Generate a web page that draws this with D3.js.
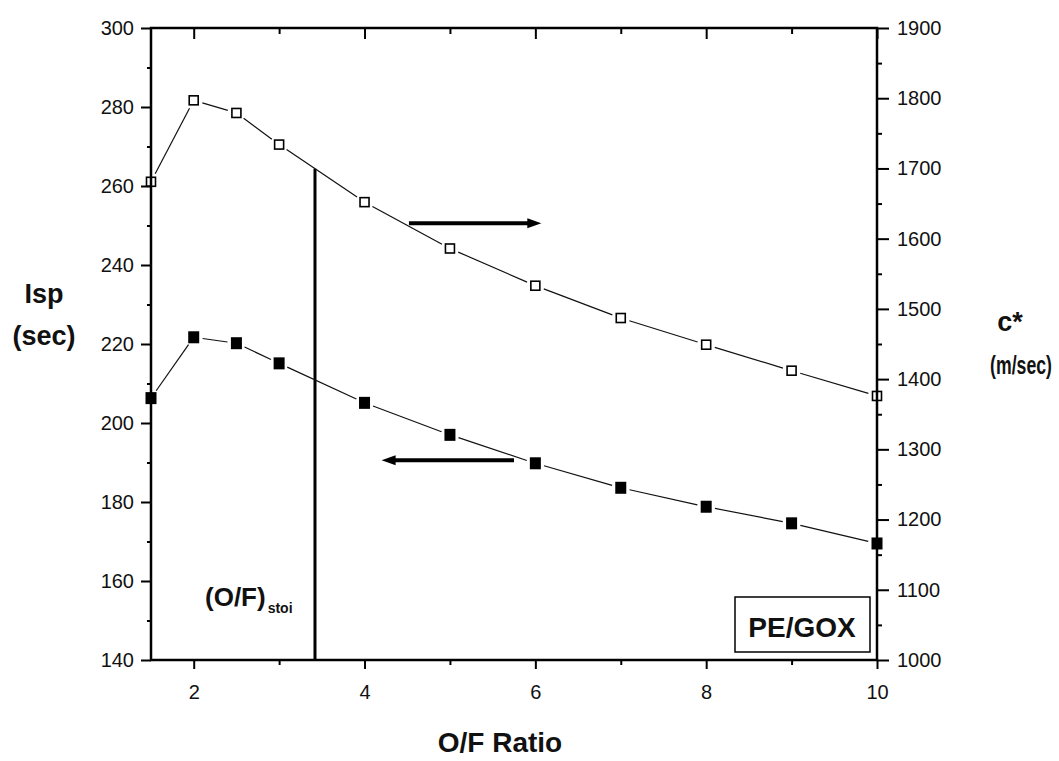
<!DOCTYPE html>
<html lang="en">
<head>
<meta charset="UTF-8">
<title>PE/GOX Isp and c*</title>
<style>
  body { margin: 0; background: #fff; }
  text { font-family: "Liberation Sans", Arial, sans-serif; fill: #111; }
  .lbl { font-weight: bold; }
</style>
</head>
<body>
<div id="chart"></div>
<script src="https://cdn.jsdelivr.net/npm/d3@7"></script>
<script>
// O/F ratio on the x axis
var ofRatio = [1.5, 2, 2.5, 3, 4, 5, 6, 7, 8, 9, 10];
// c* (m/sec), right axis, open squares
var cStar = [1681, 1797, 1779, 1734, 1652, 1586, 1533, 1487, 1449, 1412, 1376];
// Isp (sec), left axis, filled squares
var isp = [206.3, 221.7, 220.2, 215.1, 205.1, 197, 189.8, 183.6, 178.8, 174.6, 169.5];

var xTicks = [2, 4, 6, 8, 10];
var xMinor = [3, 5, 7, 9];
var ispTicks = [140, 160, 180, 200, 220, 240, 260, 280, 300];
var cTicks = [1000, 1100, 1200, 1300, 1400, 1500, 1600, 1700, 1800, 1900];
var ofStoich = 3.42;

var W = 1059, H = 761;
var pLeft = 151, pRight = 877, pTop = 28, pBottom = 660;

var svg = d3.select("#chart").append("svg")
    .attr("width", W)
    .attr("height", H);

var x = d3.scaleLinear().domain([1.5, 10]).range([pLeft, pRight]);
var yL = d3.scaleLinear().domain([140, 300]).range([pBottom, pTop]);
var yR = d3.scaleLinear().domain([1000, 1900]).range([pBottom, pTop]);

// vertical stoichiometric line, from the c* curve down to the axis
var cAtStoich = d3.scaleLinear().domain(ofRatio).range(cStar)(ofStoich);
svg.append("line")
    .attr("x1", x(ofStoich)).attr("x2", x(ofStoich))
    .attr("y1", yR(cAtStoich)).attr("y2", pBottom)
    .attr("stroke", "#000").attr("stroke-width", 3);

// series lines with small gaps near markers
function drawSeries(vals, y, gap) {
  var g = svg.append("g");
  for (var i = 0; i < vals.length - 1; i++) {
    var x1 = x(ofRatio[i]), y1 = y(vals[i]);
    var x2 = x(ofRatio[i + 1]), y2 = y(vals[i + 1]);
    var dx = x2 - x1, dy = y2 - y1, len = Math.sqrt(dx * dx + dy * dy);
    var ux = dx / len, uy = dy / len;
    g.append("line")
        .attr("x1", x1 + ux * gap).attr("y1", y1 + uy * gap)
        .attr("x2", x2 - ux * gap).attr("y2", y2 - uy * gap)
        .attr("stroke", "#111").attr("stroke-width", 1.2);
  }
}
drawSeries(cStar, yR, 9);
drawSeries(isp, yL, 9);

svg.append("g").selectAll("rect")
    .data(ofRatio)
    .enter().append("rect")
    .attr("x", function(d) { return x(d) - 4.5; })
    .attr("y", function(d, i) { return yR(cStar[i]) - 4.5; })
    .attr("width", 9).attr("height", 9)
    .attr("fill", "#fff").attr("stroke", "#000").attr("stroke-width", 1.6);

svg.append("g").selectAll("rect")
    .data(ofRatio)
    .enter().append("rect")
    .attr("x", function(d) { return x(d) - 5.5; })
    .attr("y", function(d, i) { return yL(isp[i]) - 6; })
    .attr("width", 11).attr("height", 12)
    .attr("fill", "#000");

// axes
var axW = 2.5;
svg.append("g").attr("transform", "translate(0," + pBottom + ")")
    .call(d3.axisBottom(x).tickValues(xTicks).tickSize(9).tickPadding(16).tickFormat(d3.format("d")));
svg.append("g").attr("transform", "translate(0," + pBottom + ")")
    .call(d3.axisBottom(x).tickValues(xMinor).tickSize(5).tickFormat(""));
svg.append("g").attr("transform", "translate(0," + pTop + ")")
    .call(d3.axisBottom(x).tickValues(xTicks).tickSize(11).tickFormat(""));
svg.append("g").attr("transform", "translate(0," + pTop + ")")
    .call(d3.axisBottom(x).tickValues(xMinor).tickSize(6).tickFormat(""));

svg.append("g").attr("transform", "translate(" + pLeft + ",0)")
    .call(d3.axisLeft(yL).tickValues(ispTicks).tickSize(10).tickPadding(7).tickFormat(d3.format("d")));
svg.append("g").attr("transform", "translate(" + pLeft + ",0)")
    .call(d3.axisLeft(yL).tickValues(d3.range(150, 300, 20)).tickSize(4).tickFormat(""));

svg.append("g").attr("transform", "translate(" + pRight + ",0)")
    .call(d3.axisRight(yR).tickValues(cTicks).tickSize(12).tickPadding(8).tickFormat(d3.format("d")));
svg.append("g").attr("transform", "translate(" + pRight + ",0)")
    .call(d3.axisRight(yR).tickValues(d3.range(1050, 1900, 100)).tickSize(5).tickFormat(""));

svg.selectAll(".domain").attr("stroke", "none");
svg.selectAll(".tick line").attr("stroke", "#000").attr("stroke-width", 2);
svg.selectAll(".tick text").style("font-size", "20px").attr("fill", "#111");

// frame
svg.append("rect")
    .attr("x", pLeft).attr("y", pTop)
    .attr("width", pRight - pLeft).attr("height", pBottom - pTop)
    .attr("fill", "none").attr("stroke", "#000").attr("stroke-width", axW);

// arrows
function arrow(x1, x2, yv) {
  var py = yL(yv);
  var dir = x2 > x1 ? 1 : -1;
  svg.append("line")
      .attr("x1", x(x1)).attr("x2", x(x2) - dir * 10)
      .attr("y1", py).attr("y2", py)
      .attr("stroke", "#000").attr("stroke-width", 4);
  var tip = x(x2);
  svg.append("path")
      .attr("d", "M" + tip + "," + py + " L" + (tip - dir * 14) + "," + (py - 5) +
                 " L" + (tip - dir * 14) + "," + (py + 5) + " Z")
      .attr("fill", "#000");
}
arrow(4.52, 6.07, 250.6);
arrow(5.75, 4.2, 190.6);

// PE/GOX box
svg.append("rect")
    .attr("x", 735).attr("y", 597).attr("width", 135).attr("height", 55)
    .attr("fill", "#fff").attr("stroke", "#000").attr("stroke-width", 1.5);
svg.append("text").attr("class", "lbl")
    .attr("x", 802).attr("y", 637).attr("text-anchor", "middle")
    .style("font-size", "28px").text("PE/GOX");

// (O/F)stoi annotation
var ann = svg.append("text").attr("class", "lbl")
    .attr("x", 205).attr("y", 606)
    .style("font-size", "26px");
ann.append("tspan").text("(O/F)");
ann.append("tspan").attr("dx", 2).attr("dy", 7).style("font-size", "14px").text("stoi");

// axis titles
svg.append("text").attr("class", "lbl").attr("x", 44).attr("y", 303)
    .attr("text-anchor", "middle").style("font-size", "27px").text("Isp");
svg.append("text").attr("class", "lbl").attr("x", 44).attr("y", 345)
    .attr("text-anchor", "middle").style("font-size", "27px").text("(sec)");
svg.append("text").attr("class", "lbl").attr("x", 1010).attr("y", 331)
    .attr("text-anchor", "middle").style("font-size", "27px").text("c*");
svg.append("text").attr("class", "lbl")
    .attr("transform", "translate(1021,374) scale(0.68,1)")
    .attr("text-anchor", "middle").style("font-size", "26px").text("(m/sec)");
svg.append("text").attr("class", "lbl").attr("x", 500).attr("y", 752)
    .attr("text-anchor", "middle").style("font-size", "28px").text("O/F Ratio");
</script>
</body>
</html>
